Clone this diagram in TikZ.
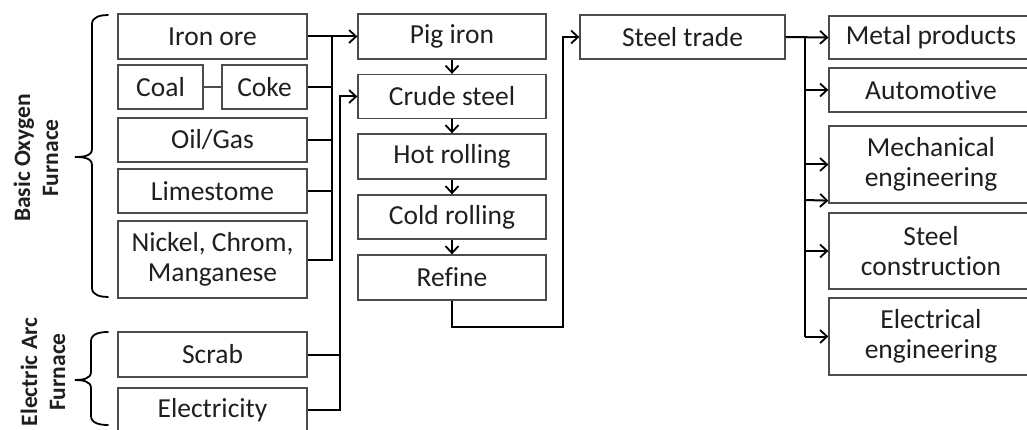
\documentclass[tikz,border=0pt]{standalone}
\usepackage{fontspec}
\setmainfont{Carlito}[Ligatures=NoCommon]
\usetikzlibrary{arrows.meta}
\tikzset{
  box/.style={draw=black!70, line width=1.3pt, rectangle, inner sep=0pt, align=center,
    font=\fontsize{27.5}{30}\selectfont, text=black!88},
  conn/.style={line width=2pt, black},
  arr/.style={conn, -{Straight Barb[length=7pt,width=13pt,line width=1.8pt]}},
  brace/.style={line width=1.8pt, black, line cap=round},
  sidelabel/.style={rotate=90, align=center, font=\fontsize{23.5}{28}\selectfont\bfseries, text=black!88}
}
\begin{document}
\begin{tikzpicture}[x=1pt,y=-1pt]
\useasboundingbox (0,0) rectangle (1027,430);
% left column
\node[box, minimum width=189pt, minimum height=45pt] (iron) at (212.5,36.5) {Iron ore};
\node[box, minimum width=85pt, minimum height=44pt] (coal) at (160.5,87) {Coal};
\node[box, minimum width=85pt, minimum height=44pt] (coke) at (264.5,87) {Coke};
\node[box, minimum width=189pt, minimum height=44pt] (oil) at (212.5,140) {Oil/Gas};
\node[box, minimum width=189pt, minimum height=44pt] (lime) at (212.5,191) {Limestome};
\node[box, minimum width=189pt, minimum height=77pt] (nickel) at (212.5,259.5) {Nickel, Chrom,\\Manganese};
\node[box, minimum width=189pt, minimum height=45pt] (scrab) at (212.5,354.5) {Scrab};
\node[box, minimum width=189pt, minimum height=44pt] (elec) at (212.5,410) {Electricity};
% middle column
\node[box, minimum width=188pt, minimum height=45pt] (pig) at (452,36.5) {Pig iron};
\node[box, minimum width=188pt, minimum height=44pt] (crude) at (452,96.5) {Crude steel};
\node[box, minimum width=188pt, minimum height=45pt] (hot) at (452,156.5) {Hot rolling};
\node[box, minimum width=188pt, minimum height=44pt] (cold) at (452,217) {Cold rolling};
\node[box, minimum width=188pt, minimum height=45pt] (refine) at (452,277.5) {Refine};
% steel trade
\node[box, minimum width=205pt, minimum height=44pt] (trade) at (682.5,37) {Steel trade};
% right column
\node[box, minimum width=204pt, minimum height=43pt] (metal) at (931,37.5) {Metal products};
\node[box, minimum width=204pt, minimum height=44pt] (auto) at (931,90) {Automotive};
\node[box, minimum width=204pt, minimum height=77pt] (mech) at (931,164.5) {Mechanical\\engineering};
\node[box, minimum width=204pt, minimum height=76pt] (steelc) at (931,251) {Steel\\construction};
\node[box, minimum width=204pt, minimum height=77pt] (electr) at (931,336.5) {Electrical\\engineering};
% side labels
\node[sidelabel] (bof) at (36,158) {Basic Oxygen\\Furnace};
\node[sidelabel] (eaf) at (43,372) {Electric Arc\\Furnace};
% braces
\draw[brace] (108,15) to[out=180,in=90] (92,24) -- (92,149) to[out=-90,in=0] (75,157)
  to[out=0,in=90] (92,165) -- (92,288) to[out=-90,in=180] (108,297);
\draw[brace] (108,332) to[out=180,in=90] (91,341) -- (91,372) to[out=-90,in=0] (75,380)
  to[out=0,in=90] (91,388) -- (91,416) to[out=-90,in=180] (108,425);
% coal - coke
\draw[line width=1.3pt, black!70] (coal.east) -- (coke.west);
% BOF bus
\coordinate (b1top) at (332,36.5);
\coordinate (b1bot) at (332,259.5);
\draw[conn] (coke.east) -- (332,87);
\draw[conn] (oil.east) -- (332,140);
\draw[conn] (lime.east) -- (332,191);
\draw[conn] (nickel.east) -- (b1bot) -- (b1top);
\draw[arr] (iron.east) -- (pig.west);
% EAF bus
\coordinate (b2top) at (340,96.5);
\coordinate (b2bot) at (340,410);
\draw[conn] (scrab.east) -- (340,354.5);
\draw[arr] (elec.east) -- (b2bot) -- (b2top) -- (crude.west);
% middle chain
\draw[arr] (pig.south) -- (crude.north);
\draw[arr] (crude.south) -- (hot.north);
\draw[arr] (hot.south) -- (cold.north);
\draw[arr] (cold.south) -- (refine.north);
% refine -> trade
\coordinate (r1) at (452,327);
\coordinate (r2) at (563,327);
\coordinate (r3) at (563,37);
\draw[arr] (refine.south) -- (r1) -- (r2) -- (r3) -- (trade.west);
% right bus
\coordinate (b3top) at (805,37);
\coordinate (b3bot) at (805,336.5);
\draw[arr] (trade.east) -- (metal.west);
\draw[conn] (b3top) -- (b3bot);
\draw[arr] (805,90) -- (auto.west);
\draw[arr] (805,164.5) -- (mech.west);
\coordinate (mextra) at ([yshift=3pt]mech.south west);
\draw[arr] (805,200) -- (mextra);
\draw[arr] (805,251) -- (steelc.west);
\draw[arr] (b3bot) -- (electr.west);
\end{tikzpicture}
\end{document}
